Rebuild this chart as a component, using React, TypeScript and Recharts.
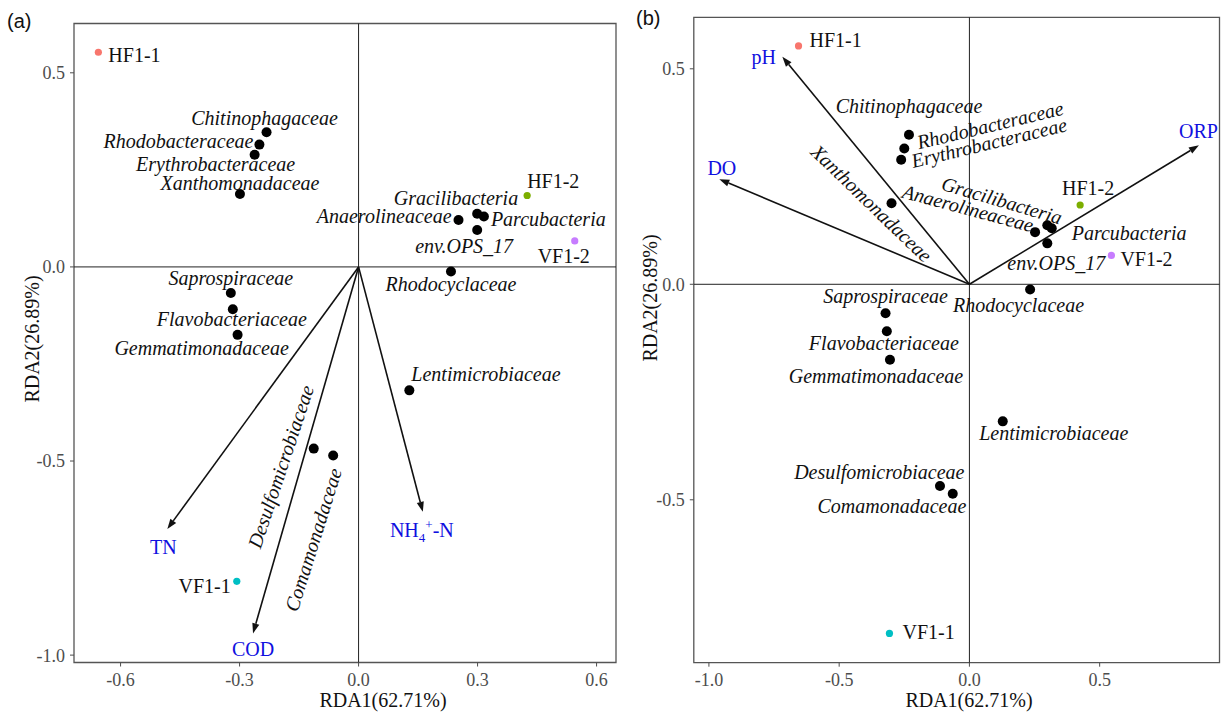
import React from "react";
import { ScatterChart, Scatter, XAxis, YAxis, ReferenceLine, ReferenceArea } from "recharts";

const SERIF = '"Liberation Serif", "Times New Roman", serif';
const SANS = '"Liberation Sans", Arial, sans-serif';

// site scores (same in both panels)
const sampleNames = ["HF1-1", "HF1-2", "VF1-1", "VF1-2"];
const sampleRDA1 = [-0.656, 0.425, -0.307, 0.545];
const sampleRDA2 = [0.553, 0.184, -0.81, 0.067];
const sampleColors = ["#F8766D", "#7CAE00", "#00BFC4", "#C77CFF"];

// family scores
const speciesNames = [
  "Chitinophagaceae", "Rhodobacteraceae", "Erythrobacteraceae", "Xanthomonadaceae",
  "Gracilibacteria", "Parcubacteria", "Anaerolineaceae", "env.OPS_17", "Rhodocyclaceae",
  "Saprospiraceae", "Flavobacteriaceae", "Gemmatimonadaceae", "Lentimicrobiaceae",
  "Desulfomicrobiaceae", "Comamonadaceae",
];
const speciesRDA1 = [-0.232, -0.25, -0.262, -0.299, 0.299, 0.316, 0.252, 0.299, 0.233, -0.322, -0.317, -0.305, 0.128, -0.113, -0.064];
const speciesRDA2 = [0.347, 0.315, 0.289, 0.188, 0.137, 0.13, 0.121, 0.095, -0.012, -0.067, -0.109, -0.175, -0.318, -0.468, -0.486];

// environmental vectors
const envNamesA = ["TN", "COD", "NH4+-N"];
const envRDA1A = [-0.482, -0.266, 0.162];
const envRDA2A = [-0.675, -0.944, -0.631];
const envNamesB = ["pH", "DO", "ORP"];
const envRDA1B = [-0.718, -0.96, 0.881];
const envRDA2B = [0.528, 0.244, 0.3225];

const xTicksA = [-0.6, -0.3, 0, 0.3, 0.6];
const yTicksA = [-1, -0.5, 0, 0.5];
const xTicksB = [-1, -0.5, 0, 0.5];
const yTicksB = [-0.5, 0, 0.5];

type Lab = { dx: number; dy: number; anchor: "start" | "middle" | "end"; angle?: number };

// label placement relative to each point (px)
const layoutA: Record<string, Lab> = {
  "HF1-1": { dx: 10, dy: 10, anchor: "start" },
  "HF1-2": { dx: 0, dy: -7, anchor: "start" },
  "VF1-1": { dx: -6, dy: 12, anchor: "end" },
  "VF1-2": { dx: -11, dy: 22, anchor: "middle" },
  Chitinophagaceae: { dx: -2, dy: -7, anchor: "middle" },
  Rhodobacteraceae: { dx: -6, dy: 3, anchor: "end" },
  Erythrobacteraceae: { dx: -39, dy: 16, anchor: "middle" },
  Xanthomonadaceae: { dx: 0, dy: -4, anchor: "middle" },
  Gracilibacteria: { dx: 41, dy: -9, anchor: "end" },
  Parcubacteria: { dx: 7, dy: 10, anchor: "start" },
  Anaerolineaceae: { dx: -7, dy: 3, anchor: "end" },
  "env.OPS_17": { dx: -13, dy: 23, anchor: "middle" },
  Rhodocyclaceae: { dx: 0, dy: 19, anchor: "middle" },
  Saprospiraceae: { dx: 0, dy: -8, anchor: "middle" },
  Flavobacteriaceae: { dx: -1, dy: 17, anchor: "middle" },
  Gemmatimonadaceae: { dx: -36, dy: 20, anchor: "middle" },
  Lentimicrobiaceae: { dx: 2, dy: -9, anchor: "start" },
  Desulfomicrobiaceae: { dx: -33, dy: 18, anchor: "middle", angle: -71.6 },
  Comamonadaceae: { dx: -20, dy: 84, anchor: "middle", angle: -72.6 },
};

const layoutB: Record<string, Lab> = {
  "HF1-1": { dx: 11, dy: 1, anchor: "start" },
  "HF1-2": { dx: 8, dy: -10, anchor: "middle" },
  "VF1-1": { dx: 13, dy: 6, anchor: "start" },
  "VF1-2": { dx: 9, dy: 11, anchor: "start" },
  Chitinophagaceae: { dx: 0, dy: -22, anchor: "middle" },
  Rhodobacteraceae: { dx: 13, dy: -6, anchor: "start", angle: -13.5 },
  Erythrobacteraceae: { dx: 10.5, dy: 1.5, anchor: "start", angle: -13.5 },
  Xanthomonadaceae: { dx: -20, dy: 0, anchor: "middle", angle: 44 },
  Gracilibacteria: { dx: -45.5, dy: -25, anchor: "middle", angle: 16.4 },
  Anaerolineaceae: { dx: -67, dy: -24, anchor: "middle", angle: 15 },
  Parcubacteria: { dx: 20, dy: 12, anchor: "start" },
  "env.OPS_17": { dx: 9, dy: 27, anchor: "middle" },
  Rhodocyclaceae: { dx: -11.6, dy: 23, anchor: "middle" },
  Saprospiraceae: { dx: 0, dy: -10, anchor: "middle" },
  Flavobacteriaceae: { dx: -3, dy: 19, anchor: "middle" },
  Gemmatimonadaceae: { dx: -14, dy: 23, anchor: "middle" },
  Lentimicrobiaceae: { dx: 51, dy: 19, anchor: "middle" },
  Desulfomicrobiaceae: { dx: 24.5, dy: -7, anchor: "end" },
  Comamonadaceae: { dx: 13.6, dy: 19, anchor: "end" },
};

const envLayoutA: Record<string, { dx: number; dy: number }> = {
  TN: { dx: -4, dy: 25 },
  COD: { dx: 0, dy: 23 },
  "NH4+-N": { dx: -1, dy: 25 },
};
const envLayoutB: Record<string, { dx: number; dy: number }> = {
  pH: { dx: -18.6, dy: 7.6 },
  DO: { dx: 2.5, dy: -4 },
  ORP: { dx: -0.5, dy: -7.6 },
};

const samples = sampleNames.map((name, i) => ({ name, x: sampleRDA1[i], y: sampleRDA2[i], color: sampleColors[i] }));
const species = speciesNames.map((name, i) => ({ name, x: speciesRDA1[i], y: speciesRDA2[i] }));

function pointLabel(cx: number, cy: number, name: string, lab: Lab, italic: boolean) {
  const x = cx + lab.dx;
  const y = cy + lab.dy;
  const rotated = lab.angle !== undefined;
  return (
    <text
      x={x}
      y={y}
      textAnchor={lab.anchor}
      dominantBaseline={rotated ? "central" : "alphabetic"}
      transform={rotated ? `rotate(${lab.angle}, ${x}, ${y})` : undefined}
      fontFamily={SERIF}
      fontStyle={italic ? "italic" : "normal"}
      fontSize={20}
      fill="#111"
    >
      {name}
    </text>
  );
}

function envText(name: string) {
  if (name === "NH4+-N") {
    return (
      <>
        NH
        <tspan dy={5} fontSize={13}>4</tspan>
        <tspan dy={-13} fontSize={13}>+</tspan>
        <tspan dy={8}>-N</tspan>
      </>
    );
  }
  return name;
}

function arrowShape(name: string, off: { dx: number; dy: number }) {
  return (props: any) => {
    const { x1, y1, x2, y2 } = props;
    const a = Math.atan2(y2 - y1, x2 - x1);
    const len = 10;
    const hw = 3.6;
    const bx = x2 - len * Math.cos(a);
    const by = y2 - len * Math.sin(a);
    const px = -Math.sin(a) * hw;
    const py = Math.cos(a) * hw;
    return (
      <g>
        <line x1={x1} y1={y1} x2={bx} y2={by} stroke="#111" strokeWidth={1.6} />
        <path d={`M${x2},${y2} L${bx + px},${by + py} L${bx - px},${by - py} Z`} fill="#111" />
        <text x={x2 + off.dx} y={y2 + off.dy} textAnchor="middle" fontFamily={SERIF} fontSize={20} fill="#1010E0">
          {envText(name)}
        </text>
      </g>
    );
  };
}

type PanelProps = {
  left: number;
  width: number;
  margin: { top: number; right: number; left: number; bottom: number };
  yAxisWidth: number;
  xAxisHeight: number;
  xDomain: [number, number];
  yDomain: [number, number];
  xTicks: number[];
  yTicks: number[];
  layout: Record<string, Lab>;
  envNames: string[];
  envX: number[];
  envY: number[];
  envLayout: Record<string, { dx: number; dy: number }>;
};

const tickStyle = { fill: "#4D4D4D", fontSize: 18, fontFamily: SERIF };

function Panel(p: PanelProps) {
  return (
    <div style={{ position: "absolute", left: p.left, top: 0 }}>
      <ScatterChart width={p.width} height={713} margin={p.margin}>
        <XAxis
          type="number"
          dataKey="x"
          domain={p.xDomain}
          allowDataOverflow
          ticks={p.xTicks}
          tickFormatter={(v: number) => v.toFixed(1)}
          axisLine={false}
          tickLine={{ stroke: "#4D4D4D" }}
          tickSize={4}
          tickMargin={7}
          tick={tickStyle}
          height={p.xAxisHeight}
          interval={0}
        />
        <YAxis
          type="number"
          dataKey="y"
          domain={p.yDomain}
          allowDataOverflow
          ticks={p.yTicks}
          tickFormatter={(v: number) => v.toFixed(1)}
          axisLine={false}
          tickLine={{ stroke: "#4D4D4D" }}
          tickSize={4}
          tickMargin={5}
          tick={tickStyle}
          width={p.yAxisWidth}
          interval={0}
        />
        <ReferenceArea
          x1={p.xDomain[0]}
          x2={p.xDomain[1]}
          y1={p.yDomain[0]}
          y2={p.yDomain[1]}
          fill="none"
          stroke="#555"
          strokeWidth={1.3}
          ifOverflow="visible"
        />
        <ReferenceLine x={0} stroke="#222" strokeWidth={1} />
        <ReferenceLine y={0} stroke="#222" strokeWidth={1} />
        {p.envNames.map((n, i) => (
          <ReferenceLine
            key={n}
            segment={[{ x: 0, y: 0 }, { x: p.envX[i], y: p.envY[i] }]}
            ifOverflow="visible"
            shape={arrowShape(n, p.envLayout[n])}
          />
        ))}
        <Scatter
          data={species}
          isAnimationActive={false}
          shape={(props: any) => (
            <g>
              <circle cx={props.cx} cy={props.cy} r={5} fill="#000" />
              {pointLabel(props.cx, props.cy, props.payload.name, p.layout[props.payload.name], true)}
            </g>
          )}
        />
        <Scatter
          data={samples}
          isAnimationActive={false}
          shape={(props: any) => (
            <g>
              <circle cx={props.cx} cy={props.cy} r={3.6} fill={props.payload.color} />
              {pointLabel(props.cx, props.cy, props.payload.name, p.layout[props.payload.name], false)}
            </g>
          )}
        />
      </ScatterChart>
    </div>
  );
}

export default function App() {
  return (
    <div style={{ position: "absolute", left: 0, top: 0, width: 1221, height: 713, background: "#fff", overflow: "hidden" }}>
      <Panel
        left={0}
        width={620}
        margin={{ top: 23.5, right: 4, left: 0, bottom: 0 }}
        yAxisWidth={74}
        xAxisHeight={50.5}
        xDomain={[-0.7174, 0.649]}
        yDomain={[-1.019, 0.627]}
        xTicks={xTicksA}
        yTicks={yTicksA}
        layout={layoutA}
        envNames={envNamesA}
        envX={envRDA1A}
        envY={envRDA2A}
        envLayout={envLayoutA}
      />
      <Panel
        left={620}
        width={601}
        margin={{ top: 17.3, right: 1.5, left: 0, bottom: 0 }}
        yAxisWidth={73.8}
        xAxisHeight={50.3}
        xDomain={[-1.058, 0.96]}
        yDomain={[-0.878, 0.6195]}
        xTicks={xTicksB}
        yTicks={yTicksB}
        layout={layoutB}
        envNames={envNamesB}
        envX={envRDA1B}
        envY={envRDA2B}
        envLayout={envLayoutB}
      />
      <svg width={1221} height={713} style={{ position: "absolute", left: 0, top: 0, pointerEvents: "none" }}>
        <text x={7} y={28} fontFamily={SANS} fontSize={20} fill="#111">(a)</text>
        <text x={636} y={25} fontFamily={SANS} fontSize={20} fill="#111">(b)</text>
        <text x={383} y={707} textAnchor="middle" fontFamily={SERIF} fontSize={20} fill="#111">RDA1(62.71%)</text>
        <text x={969} y={707} textAnchor="middle" fontFamily={SERIF} fontSize={20} fill="#111">RDA1(62.71%)</text>
        <text x={39} y={339} textAnchor="middle" transform="rotate(-90, 39, 339)" fontFamily={SERIF} fontSize={20} fill="#111">RDA2(26.89%)</text>
        <text x={657} y={298} textAnchor="middle" transform="rotate(-90, 657, 298)" fontFamily={SERIF} fontSize={20} fill="#111">RDA2(26.89%)</text>
      </svg>
    </div>
  );
}
